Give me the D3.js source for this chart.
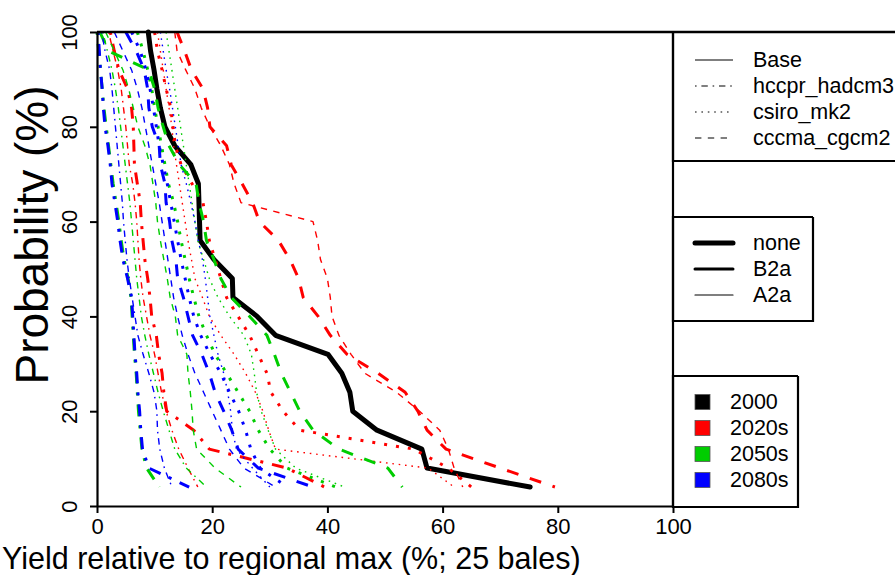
<!DOCTYPE html>
<html>
<head>
<meta charset="utf-8">
<script src="https://cdn.jsdelivr.net/npm/d3@7"></script>
<style>
  body { margin: 0; background: #ffffff; }
  svg { display: block; font-family: "Liberation Sans", Arial, sans-serif; }
</style>
</head>
<body>
<svg id="chart" width="895" height="575"></svg>
<script>
// Exceedance probability (%) shared by every curve, one value per year of the 25-year record
const probs = [100, 96, 92, 88, 84, 80, 76, 72, 68, 64, 60, 56, 52, 48, 44, 40, 36, 32, 28, 24, 20, 16, 12, 8, 4];

const xTicks = [0, 20, 40, 60, 80, 100];
const yTicks = [0, 20, 40, 60, 80, 100];

const gcmNames = ["Base", "hccpr_hadcm3", "csiro_mk2", "cccma_cgcm2"];
const scenarioNames = ["none", "B2a", "A2a"];
const periodNames = ["2000", "2020s", "2050s", "2080s"];
const periodColors = ["#000000", "#ff0000", "#00cd00", "#0000ff"];

// Yield relative to regional max (%) at each exceedance probability
const base2000 = [8.9, 9.3, 9.9, 10.4, 11.0, 11.8, 13.5, 16.3, 17.6, 17.7, 17.8, 17.9, 20.3, 23.5, 23.6, 27.8, 31.0, 40.1, 42.5, 43.9, 44.4, 48.6, 56.4, 57.3, 75.2];

const hccpr2020B2a = [2.3, 3.0, 3.8, 5.3, 6.0, 6.3, 6.4, 6.5, 7.0, 7.5, 7.7, 8.0, 8.3, 8.8, 9.2, 9.5, 10.3, 10.7, 11.3, 11.6, 12.1, 16.8, 19.5, 33.0, 39.5];
const hccpr2020A2a = [2.0, 2.8, 3.6, 4.2, 4.6, 5.0, 5.3, 5.6, 6.2, 6.6, 6.9, 7.1, 7.3, 7.6, 8.0, 8.6, 9.2, 10.0, 10.6, 11.2, 12.0, 13.0, 14.2, 15.8, 17.5];
const csiro2020B2a = [10.0, 10.5, 11.3, 12.0, 12.8, 13.2, 13.6, 14.6, 16.5, 18.4, 19.0, 19.5, 20.5, 21.5, 22.5, 24.5, 26.5, 28.0, 29.5, 30.2, 32.3, 35.2, 55.0, 61.0, 65.0];
const csiro2020A2a = [10.5, 11.0, 11.5, 12.0, 12.5, 13.0, 13.3, 13.8, 14.3, 14.8, 15.3, 15.8, 16.4, 17.0, 18.3, 19.5, 21.5, 23.8, 25.8, 27.5, 28.8, 29.8, 31.0, 57.5, 62.0];
const cccma2020B2a = [13.9, 15.2, 16.4, 18.4, 19.2, 19.6, 22.5, 23.3, 25.2, 27.0, 28.2, 31.5, 33.5, 35.0, 35.8, 38.4, 40.5, 43.4, 48.8, 53.5, 55.7, 57.3, 60.6, 70.0, 79.5];
const cccma2020A2a = [13.5, 13.9, 15.4, 17.0, 18.1, 19.6, 21.5, 23.0, 23.8, 25.0, 37.5, 38.3, 38.8, 40.0, 40.5, 40.8, 42.0, 44.1, 46.5, 52.0, 56.0, 59.5, 61.0, 62.0, 63.5];

const hccpr2050B2a = [0.0, 0.3, 0.6, 0.9, 1.2, 1.6, 2.0, 2.4, 2.8, 3.3, 3.8, 4.2, 4.7, 5.4, 5.9, 6.1, 6.3, 6.5, 6.8, 7.0, 7.2, 7.5, 7.8, 8.6, 10.8];
const hccpr2050A2a = [1.0, 1.8, 2.6, 3.2, 3.7, 4.1, 4.5, 4.9, 5.3, 5.7, 6.0, 6.3, 6.6, 6.9, 7.3, 7.7, 8.3, 9.0, 9.8, 10.6, 11.5, 12.5, 13.5, 15.5, 19.0];
const csiro2050B2a = [7.0, 8.0, 8.8, 9.5, 10.0, 10.6, 11.2, 11.8, 12.4, 13.3, 14.0, 14.6, 15.3, 16.0, 16.8, 17.7, 19.0, 20.5, 22.5, 24.5, 26.5, 28.0, 30.0, 33.0, 41.5];
const csiro2050A2a = [12.0, 12.5, 13.0, 13.5, 14.0, 14.5, 15.0, 15.5, 16.0, 16.5, 17.0, 17.5, 18.5, 19.5, 21.0, 23.0, 25.5, 26.8, 27.3, 27.7, 28.5, 29.7, 31.0, 34.5, 43.0];
const cccma2050B2a = [0.5, 2.0, 9.0, 10.0, 10.6, 11.5, 12.5, 14.3, 17.2, 17.7, 18.5, 19.0, 20.3, 21.5, 23.3, 26.5, 29.5, 30.8, 32.0, 33.6, 35.2, 37.5, 42.0, 50.5, 53.0];
const cccma2050A2a = [1.5, 3.0, 4.5, 5.5, 6.3, 7.1, 8.3, 9.2, 9.7, 10.2, 10.5, 11.0, 11.6, 12.2, 12.7, 13.6, 14.0, 15.6, 15.8, 16.2, 16.5, 16.7, 17.3, 20.5, 25.0];

const hccpr2080B2a = [0.2, 0.4, 0.6, 0.9, 1.1, 1.4, 1.9, 2.3, 2.6, 3.1, 3.6, 4.0, 4.5, 5.3, 6.0, 6.2, 6.4, 6.6, 6.9, 7.1, 7.4, 7.6, 7.9, 9.0, 16.0];
const hccpr2080A2a = [0.8, 1.4, 2.2, 2.6, 2.9, 3.2, 3.5, 3.8, 4.1, 4.4, 4.6, 4.9, 5.2, 5.6, 6.1, 6.6, 7.1, 8.0, 9.0, 9.9, 10.4, 10.5, 10.9, 11.7, 13.0];
const csiro2080B2a = [6.0, 7.5, 8.5, 9.2, 9.8, 10.3, 10.8, 11.5, 12.2, 12.8, 13.4, 14.0, 14.6, 15.3, 16.0, 16.8, 18.0, 19.6, 21.5, 23.0, 24.6, 25.8, 26.7, 28.3, 33.0];
const csiro2080A2a = [11.0, 11.5, 12.0, 12.6, 13.1, 13.6, 14.1, 14.6, 15.5, 16.3, 17.0, 17.6, 18.3, 18.8, 19.2, 19.6, 20.3, 21.0, 22.0, 22.7, 23.2, 23.5, 24.2, 27.0, 30.0];
const cccma2080B2a = [5.0, 6.8, 8.2, 8.8, 9.0, 9.6, 10.8, 11.0, 11.8, 12.0, 12.6, 13.0, 13.7, 14.0, 15.0, 15.8, 16.6, 18.2, 19.5, 20.5, 22.0, 23.4, 24.5, 28.0, 37.5];
const cccma2080A2a = [3.0, 4.5, 6.0, 7.0, 7.8, 8.4, 9.0, 9.6, 10.2, 10.8, 11.3, 11.8, 12.3, 12.8, 13.3, 14.0, 14.8, 15.8, 17.0, 18.5, 20.0, 21.5, 23.0, 25.5, 31.0];

// Curve list in drawing order: baseline first, then the three future periods
const curves = [
  { period: "2000",  gcm: "Base",         scen: "none", yields: base2000 },
  { period: "2020s", gcm: "hccpr_hadcm3", scen: "B2a",  yields: hccpr2020B2a },
  { period: "2020s", gcm: "hccpr_hadcm3", scen: "A2a",  yields: hccpr2020A2a },
  { period: "2020s", gcm: "csiro_mk2",    scen: "B2a",  yields: csiro2020B2a },
  { period: "2020s", gcm: "csiro_mk2",    scen: "A2a",  yields: csiro2020A2a },
  { period: "2020s", gcm: "cccma_cgcm2",  scen: "B2a",  yields: cccma2020B2a },
  { period: "2020s", gcm: "cccma_cgcm2",  scen: "A2a",  yields: cccma2020A2a },
  { period: "2050s", gcm: "hccpr_hadcm3", scen: "B2a",  yields: hccpr2050B2a },
  { period: "2050s", gcm: "hccpr_hadcm3", scen: "A2a",  yields: hccpr2050A2a },
  { period: "2050s", gcm: "csiro_mk2",    scen: "B2a",  yields: csiro2050B2a },
  { period: "2050s", gcm: "csiro_mk2",    scen: "A2a",  yields: csiro2050A2a },
  { period: "2050s", gcm: "cccma_cgcm2",  scen: "B2a",  yields: cccma2050B2a },
  { period: "2050s", gcm: "cccma_cgcm2",  scen: "A2a",  yields: cccma2050A2a },
  { period: "2080s", gcm: "hccpr_hadcm3", scen: "B2a",  yields: hccpr2080B2a },
  { period: "2080s", gcm: "hccpr_hadcm3", scen: "A2a",  yields: hccpr2080A2a },
  { period: "2080s", gcm: "csiro_mk2",    scen: "B2a",  yields: csiro2080B2a },
  { period: "2080s", gcm: "csiro_mk2",    scen: "A2a",  yields: csiro2080A2a },
  { period: "2080s", gcm: "cccma_cgcm2",  scen: "B2a",  yields: cccma2080B2a },
  { period: "2080s", gcm: "cccma_cgcm2",  scen: "A2a",  yields: cccma2080A2a }
];

// ---- styling helpers ----
const colorOf = d3.scaleOrdinal().domain(periodNames).range(periodColors);
const widthOf = { none: 5, B2a: 3, A2a: 1.4 };
const dashUnits = {
  "Base": null,
  "hccpr_hadcm3": [1, 3, 4, 3],
  "csiro_mk2": [1, 3],
  "cccma_cgcm2": [4, 4]
};
function dashArray(gcm, w) {
  const u = dashUnits[gcm];
  if (!u) return null;
  const k = Math.max(w, 1.6);
  return u.map(v => v * k).join(",");
}

// ---- layout ----
const svg = d3.select("#chart");
const x = d3.scaleLinear().domain([0, 100]).range([97, 673]);
const y = d3.scaleLinear().domain([0, 100]).range([506, 32]);

// curves
const line = d3.line()
  .x(d => x(d[0]))
  .y(d => y(d[1]));

svg.append("g").attr("class", "curves")
  .selectAll("path")
  .data(curves)
  .join("path")
  .attr("d", c => line(c.yields.map((v, i) => [v, probs[i]])))
  .attr("fill", "none")
  .attr("stroke", c => colorOf(c.period))
  .attr("stroke-width", c => widthOf[c.scen])
  .attr("stroke-dasharray", c => dashArray(c.gcm, widthOf[c.scen]))
  .attr("stroke-linejoin", "round")
  .attr("stroke-linecap", c => c.gcm === "Base" ? "round" : "butt");

// ---- axes ----
const yAxis = svg.append("g")
  .attr("transform", `translate(${x(0)},0)`)
  .call(d3.axisLeft(y).tickValues(yTicks).tickSize(7).tickSizeOuter(0));
yAxis.select(".domain").attr("stroke-width", 2.2);
yAxis.selectAll(".tick line").attr("stroke-width", 2);
yAxis.selectAll(".tick text")
  .attr("transform", "rotate(-90)")
  .attr("x", 0).attr("y", -20).attr("dy", null)
  .attr("text-anchor", "middle")
  .attr("font-size", 22)
  .attr("font-family", "Liberation Sans, Arial, sans-serif")
  .attr("fill", "#000");

const xAxis = svg.append("g")
  .attr("transform", `translate(0,${y(0)})`)
  .call(d3.axisBottom(x).tickValues(xTicks).tickSize(7).tickSizeOuter(0));
xAxis.select(".domain").attr("stroke-width", 2.2);
xAxis.selectAll(".tick line").attr("stroke-width", 2);
xAxis.selectAll(".tick text")
  .attr("y", 28).attr("dy", null)
  .attr("font-size", 22)
  .attr("font-family", "Liberation Sans, Arial, sans-serif")
  .attr("fill", "#000");

// frame: top edge runs across the legend column, right edge of the plot
svg.append("line")
  .attr("x1", x(0)).attr("x2", 895).attr("y1", y(100)).attr("y2", y(100))
  .attr("stroke", "#000").attr("stroke-width", 2.6);
svg.append("line")
  .attr("x1", x(100)).attr("x2", x(100)).attr("y1", y(100)).attr("y2", y(0))
  .attr("stroke", "#000").attr("stroke-width", 2.2);

// axis titles
svg.append("text")
  .attr("x", 2).attr("y", 569)
  .attr("font-size", 30.5)
  .attr("fill", "#000")
  .text("Yield relative to regional max (%; 25 bales)");

svg.append("text")
  .attr("transform", "translate(48,235) rotate(-90)")
  .attr("text-anchor", "middle")
  .attr("font-size", 46)
  .attr("fill", "#000")
  .text("Probability (%)");

// ---- legends ----
function box(x0, y0, x1, y1) {
  svg.append("path")
    .attr("d", `M${x1},${y0}H${x0}V${y1}H${x1}V${y0}`)
    .attr("fill", "none").attr("stroke", "#000").attr("stroke-width", 2.2);
}

// line type legend
box(673, 32, 897, 161);
const lg1 = svg.append("g");
gcmNames.forEach((g, i) => {
  const yy = 60 + i * 26;
  lg1.append("line")
    .attr("x1", 695).attr("x2", 733).attr("y1", yy).attr("y2", yy)
    .attr("stroke", "#000").attr("stroke-width", 1.2)
    .attr("stroke-dasharray", dashArray(g, 1.2));
  lg1.append("text").attr("x", 753).attr("y", yy + 7)
    .attr("font-size", 21.5).attr("fill", "#000").text(g);
});

// line width legend
box(673, 217, 813, 321);
const lg2 = svg.append("g");
scenarioNames.forEach((s, i) => {
  const yy = 243 + i * 26;
  lg2.append("line")
    .attr("x1", 695).attr("x2", 733).attr("y1", yy).attr("y2", yy)
    .attr("stroke", "#000").attr("stroke-width", s === "A2a" ? 1.2 : widthOf[s])
    .attr("stroke-linecap", "round");
  lg2.append("text").attr("x", 753).attr("y", yy + 7)
    .attr("font-size", 21.5).attr("fill", "#000").text(s);
});

// colour legend
box(673, 376, 798, 507);
const lg3 = svg.append("g");
periodNames.forEach((p, i) => {
  const yy = 402 + i * 26;
  lg3.append("rect")
    .attr("x", 695).attr("y", yy - 7.5).attr("width", 15).attr("height", 15)
    .attr("fill", colorOf(p)).attr("stroke", "#555").attr("stroke-width", 0.8);
  lg3.append("text").attr("x", 730).attr("y", yy + 7)
    .attr("font-size", 21.5).attr("fill", "#000").text(p);
});
</script>
</body>
</html>
